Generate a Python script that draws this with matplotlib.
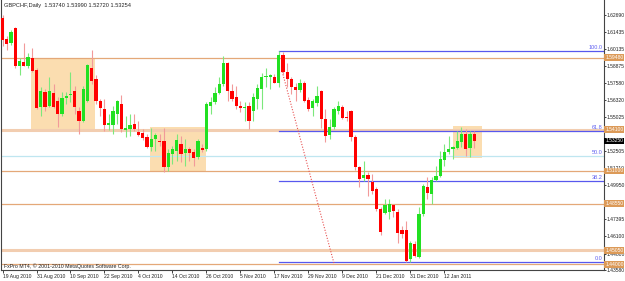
import matplotlib
matplotlib.use("Agg")
import matplotlib.pyplot as plt
from matplotlib.patches import Rectangle
from matplotlib.transforms import blended_transform_factory

FONT = ["Liberation Sans Narrow", "Liberation Sans", "DejaVu Sans"]

# daily bars, 19 Aug 2010 .. 21 Jan 2011 (weekdays)
opens = [1.6246, 1.6090, 1.6060, 1.6172, 1.5889, 1.5919, 1.5889, 1.5948, 1.5859, 1.5576,
         1.5688, 1.5584, 1.5681, 1.5621, 1.5524, 1.5643, 1.5666, 1.5696, 1.5547, 1.5472,
         1.5621, 1.5874, 1.5785, 1.5621, 1.5562, 1.5443, 1.5443, 1.5524, 1.5599, 1.5405,
         1.5413, 1.5450, 1.5390, 1.5383, 1.5353, 1.5279, 1.5338, 1.5324, 1.5324, 1.5130,
         1.5227, 1.5249, 1.5301, 1.5234, 1.5264, 1.5242, 1.5204, 1.5271, 1.5264, 1.5584,
         1.5614, 1.5681, 1.5748, 1.5911, 1.5696, 1.5651, 1.5584, 1.5569, 1.5584, 1.5547,
         1.5636, 1.5710, 1.5800, 1.5800, 1.5807, 1.5762, 1.5971, 1.5844, 1.5785, 1.5725,
         1.5703, 1.5762, 1.5629, 1.5569, 1.5606, 1.5696, 1.5487, 1.5368, 1.5428, 1.5547,
         1.5576, 1.5502, 1.5547, 1.5353, 1.5130, 1.5048, 1.5071, 1.5018, 1.4966, 1.4818,
         1.4788, 1.4795, 1.4847, 1.4795, 1.4661, 1.4654, 1.4438, 1.4550, 1.4453, 1.4780,
         1.4981, 1.4929, 1.5033, 1.5063, 1.5182, 1.5242, 1.5264, 1.5271, 1.5316, 1.5376,
         1.5271, 1.5374]
highs = [1.6268, 1.6112, 1.6157, 1.6179, 1.5948, 1.6060, 1.5986, 1.6023, 1.5874, 1.5725,
         1.5710, 1.5800, 1.5748, 1.5651, 1.5688, 1.5688, 1.5844, 1.5733, 1.5576, 1.5733,
         1.5904, 1.6008, 1.5822, 1.5636, 1.5636, 1.5524, 1.5584, 1.5629, 1.5666, 1.5510,
         1.5524, 1.5524, 1.5472, 1.5413, 1.5376, 1.5420, 1.5383, 1.5376, 1.5420, 1.5264,
         1.5286, 1.5376, 1.5361, 1.5338, 1.5279, 1.5264, 1.5338, 1.5301, 1.5614, 1.5651,
         1.5725, 1.5800, 1.5963, 1.5919, 1.5748, 1.5733, 1.5621, 1.5614, 1.5614, 1.5681,
         1.5748, 1.5837, 1.5874, 1.5829, 1.5829, 1.6001, 1.5993, 1.5911, 1.5800, 1.5762,
         1.5785, 1.5770, 1.5651, 1.5636, 1.5733, 1.5703, 1.5562, 1.5487, 1.5576, 1.5621,
         1.5591, 1.5547, 1.5554, 1.5368, 1.5138, 1.5175, 1.5093, 1.5078, 1.4981, 1.4832,
         1.4892, 1.4892, 1.4855, 1.4818, 1.4684, 1.4728, 1.4572, 1.4572, 1.4832, 1.5004,
         1.5056, 1.5056, 1.5138, 1.5249, 1.5301, 1.5361, 1.5286, 1.5398, 1.5428, 1.5413,
         1.5398, 1.5399]
lows = [1.6038, 1.6008, 1.6045, 1.5874, 1.5822, 1.5882, 1.5874, 1.5844, 1.5562, 1.5510,
        1.5547, 1.5576, 1.5569, 1.5428, 1.5510, 1.5599, 1.5614, 1.5524, 1.5376, 1.5465,
        1.5614, 1.5748, 1.5599, 1.5510, 1.5398, 1.5405, 1.5376, 1.5450, 1.5390, 1.5353,
        1.5361, 1.5398, 1.5361, 1.5331, 1.5271, 1.5249, 1.5249, 1.5286, 1.5093, 1.5100,
        1.5152, 1.5175, 1.5167, 1.5138, 1.5175, 1.5138, 1.5190, 1.5242, 1.5249, 1.5524,
        1.5599, 1.5673, 1.5733, 1.5621, 1.5621, 1.5562, 1.5539, 1.5472, 1.5413, 1.5472,
        1.5562, 1.5562, 1.5725, 1.5710, 1.5755, 1.5725, 1.5822, 1.5725, 1.5673, 1.5621,
        1.5688, 1.5614, 1.5547, 1.5510, 1.5584, 1.5420, 1.5316, 1.5338, 1.5413, 1.5524,
        1.5487, 1.5472, 1.5324, 1.5108, 1.4981, 1.5026, 1.4914, 1.4929, 1.4803, 1.4617,
        1.4780, 1.4743, 1.4758, 1.4557, 1.4594, 1.4416, 1.4416, 1.4453, 1.4446, 1.4766,
        1.4892, 1.4855, 1.5026, 1.5056, 1.5138, 1.5227, 1.5190, 1.5264, 1.5279, 1.5212,
        1.5204, 1.5272]
closes = [1.6082, 1.6053, 1.6142, 1.5882, 1.5926, 1.5889, 1.5956, 1.5852, 1.5569, 1.5696,
          1.5576, 1.5696, 1.5576, 1.5524, 1.5643, 1.5658, 1.5673, 1.5576, 1.5472, 1.5710,
          1.5896, 1.5770, 1.5621, 1.5569, 1.5443, 1.5457, 1.5547, 1.5621, 1.5413, 1.5420,
          1.5443, 1.5413, 1.5368, 1.5346, 1.5279, 1.5338, 1.5368, 1.5316, 1.5130, 1.5234,
          1.5264, 1.5331, 1.5227, 1.5264, 1.5234, 1.5197, 1.5324, 1.5257, 1.5599, 1.5614,
          1.5681, 1.5748, 1.5911, 1.5696, 1.5636, 1.5584, 1.5569, 1.5576, 1.5472, 1.5651,
          1.5718, 1.5800, 1.5807, 1.5815, 1.5762, 1.5971, 1.5844, 1.5785, 1.5725, 1.5703,
          1.5762, 1.5621, 1.5562, 1.5621, 1.5658, 1.5487, 1.5361, 1.5428, 1.5562, 1.5584,
          1.5495, 1.5495, 1.5353, 1.5130, 1.5041, 1.5071, 1.5041, 1.4952, 1.4818, 1.4646,
          1.4847, 1.4855, 1.4803, 1.4632, 1.4624, 1.4423, 1.4557, 1.4460, 1.4780, 1.4989,
          1.4937, 1.5033, 1.5063, 1.5190, 1.5242, 1.5264, 1.5279, 1.5324, 1.5376, 1.5264,
          1.5376, 1.5325]

date_labels = ["19 Aug 2010", "31 Aug 2010", "10 Sep 2010", "22 Sep 2010", "4 Oct 2010",
               "14 Oct 2010", "26 Oct 2010", "5 Nov 2010", "17 Nov 2010", "29 Nov 2010",
               "9 Dec 2010", "21 Dec 2010", "31 Dec 2010", "12 Jan 2011"]
price_ticks = [1.62690, 1.61435, 1.60135, 1.58875, 1.57580, 1.56320, 1.55025,
               1.52505, 1.51210, 1.49950, 1.48650, 1.47395, 1.46100, 1.44800, 1.43580]

# horizontal support/resistance lines and their pale versions
sr_levels = [1.5948, 1.5100, 1.4855, 1.4400]
sr_pale = [1.5410, 1.4505]
# boxes: (first bar, last bar, low, high)
zones = [(6.7, 21.8, 1.5410, 1.5948), (34.7, 47.9, 1.5100, 1.5431), (106.0, 112.8, 1.5197, 1.5435)]
fib_ratios = [1.0, 0.618, 0.5, 0.382, 0.0]
fib_names = ["100.0", "61.8", "50.0", "38.2", "0.0"]
fib_hi_bar, fib_lo_bar = 65, 95
trend = [(65.8, 1.5844), (78.0, 1.4408)]

fig = plt.figure(figsize=(6.25, 2.81), dpi=100)
ax = fig.add_axes([1 / 625, 11 / 281, 603 / 625, 270 / 281])
ax.set_xlim(-0.353, 141.53)
ax.set_ylim(1.4371, 1.6380)

for x0, x1, lo, hi in zones:
    ax.add_patch(Rectangle((x0, lo), x1 - x0, hi - lo, facecolor="#FBDDB0",
                           edgecolor="none", zorder=0))

for lvl in sr_levels:
    ax.axhline(lvl, color="#E4A878", lw=0.9, zorder=1)
for lvl in sr_pale:
    ax.axhline(lvl, color="#F2CDB0", lw=2.2, zorder=1)

hi = highs[fib_hi_bar]
lo = lows[fib_lo_bar]
fib_prices = [lo + r * (hi - lo) for r in fib_ratios]
ytr = blended_transform_factory(ax.transAxes, ax.transData)
for r, p, name in zip(fib_ratios, fib_prices, fib_names):
    if r == 0.5:
        ax.axhline(p, color="#BFE6F0", lw=0.9, zorder=1)
    else:
        ax.plot([fib_hi_bar, 141.53], [p, p], color="#5858EE", lw=0.9, zorder=1)
    ax.text(0.997, p + 0.0008, name, transform=ytr,
            ha="right", va="bottom", fontsize=4.0, color="#6060F0", family=FONT)

ax.plot([trend[0][0], trend[1][0]], [trend[0][1], trend[1][1]], color="#E85050",
        lw=0.8, ls=(0, (1, 1.5)), zorder=1)

# candles
for i in range(len(opens)):
    o, h, l, c = opens[i], highs[i], lows[i], closes[i]
    up = c >= o
    col = "#22E022" if up else "#FF0000"
    wick = "#7CE87C" if up else "#F29A9A"
    ax.vlines(i, l, h, color=wick, lw=0.8, zorder=2)
    body = max(abs(c - o), 0.0008)
    ax.bar(i, body, bottom=min(o, c), width=0.72, color=col, lw=0, zorder=3)

# axes styling
for side in ["left", "right", "bottom"]:
    ax.spines[side].set_color("#444444")
    ax.spines[side].set_linewidth(0.8)
ax.spines["top"].set_visible(False)

ax.yaxis.tick_right()
ax.set_yticks(price_ticks)
ax.set_yticklabels([f"{p:.5f}" for p in price_ticks])
ax.tick_params(axis="y", length=1.5, width=0.6, pad=0.5, labelsize=3.6, colors="#222222")
ax.set_xticks([8 * k for k in range(len(date_labels))])
ax.set_xticklabels(date_labels)
ax.tick_params(axis="x", length=2, width=0.6, pad=1, labelsize=3.6, colors="#222222")
for lab in ax.get_xticklabels() + ax.get_yticklabels():
    lab.set_family(FONT)
for lab in ax.get_xticklabels():
    lab.set_ha("left")

# price tags on the right axis
for lvl in sr_levels + sr_pale:
    ax.text(1.002, lvl, f"{lvl:.5f}", transform=ytr, ha="left", va="center", fontsize=3.6,
            color="white", family=FONT, clip_on=False,
            bbox=dict(boxstyle="square,pad=0.15", fc="#DC9A58", ec="none"))
ax.text(1.002, closes[-1], f"{closes[-1]:.5f}", transform=ytr, ha="left", va="center",
        fontsize=3.6, color="white", family=FONT, clip_on=False,
        bbox=dict(boxstyle="square,pad=0.15", fc="black", ec="none"))

ax.text(0.005, 0.99, "GBPCHF,Daily  1.53740 1.53990 1.52720 1.53254", transform=ax.transAxes,
        ha="left", va="top", fontsize=4.1, color="#222222", family=FONT)
ax.text(0.005, 0.004, "FxPro MT4, \u00a9 2001-2010 MetaQuotes Software Corp.", transform=ax.transAxes,
        ha="left", va="bottom", fontsize=3.8, color="#222222", family=FONT)

fig.savefig("out.png", dpi=100)
